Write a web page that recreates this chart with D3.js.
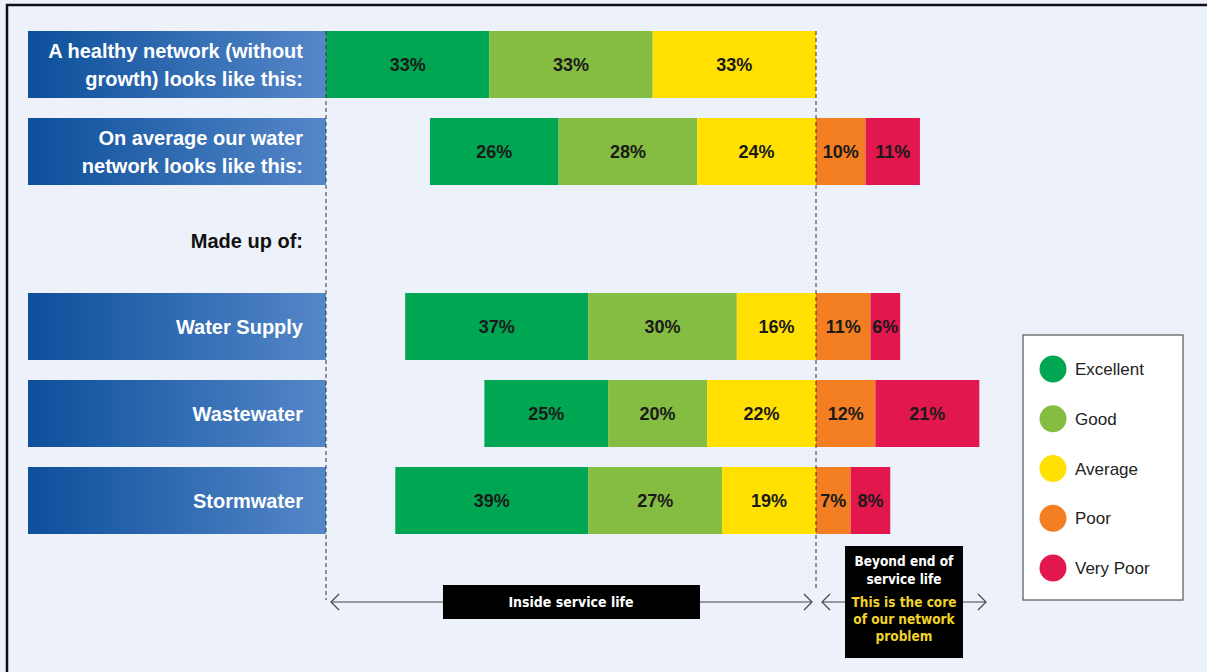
<!DOCTYPE html>
<html>
<head>
<meta charset="utf-8">
<script src="https://cdn.jsdelivr.net/npm/d3@7"></script>
<style>
  html, body { margin: 0; padding: 0; background: #edf1fa; }
  svg { display: block; }
</style>
</head>
<body>
<script>
// chart values
var rowLabels = [
  ["A healthy network (without", "growth) looks like this:"],
  ["On average our water", "network looks like this:"],
  ["Water Supply"],
  ["Wastewater"],
  ["Stormwater"]
];
var categories = ["Excellent", "Good", "Average", "Poor", "Very Poor"];
var excellent = [33, 26, 37, 25, 39];
var good      = [33, 28, 30, 20, 27];
var average   = [33, 24, 16, 22, 19];
var poor      = [0, 10, 11, 12, 7];
var veryPoor  = [0, 11, 6, 21, 8];
var colors = ["#00a651", "#84bd41", "#ffe000", "#f37f22", "#e2174e"];

var width = 1207, height = 672;

var svg = d3.select("body").append("svg")
  .attr("width", width)
  .attr("height", height);

var defs = svg.append("defs");
var grad = defs.append("linearGradient").attr("id", "blueGrad")
  .attr("x1", "0%").attr("x2", "100%").attr("y1", "0%").attr("y2", "0%");
grad.append("stop").attr("offset", "0%").attr("stop-color", "#0c4f9b");
grad.append("stop").attr("offset", "100%").attr("stop-color", "#5587c8");

// frame (top and left edges visible)
svg.append("rect")
  .attr("x", 7).attr("y", 5)
  .attr("width", width + 20).attr("height", height + 20)
  .attr("fill", "#edf1fa")
  .attr("stroke", "#111").attr("stroke-width", 2.5);

// x: 0 = boundary between "inside" and "beyond" service life
var x = d3.scaleLinear().domain([-99, 0]).range([326, 816]);

// rows: index into data, with the "Made up of:" gap between 1 and 2
var y = d3.scaleOrdinal()
  .domain([0, 1, 2, 3, 4])
  .range([31, 118, 293, 380, 467]);
var barH = 67;

var rows = d3.range(rowLabels.length).map(function(i) {
  var vals = [excellent[i], good[i], average[i], poor[i], veryPoor[i]];
  var inside = vals[0] + vals[1] + vals[2];
  var cum = -inside;
  var segs = vals.map(function(v, k) {
    var s = { row: i, k: k, v: v, x0: cum, x1: cum + v };
    cum += v;
    return s;
  }).filter(function(s) { return s.v > 0; });
  return { i: i, label: rowLabels[i], segs: segs };
});

// label boxes
var labelG = svg.append("g");
labelG.selectAll("rect")
  .data(rows).enter().append("rect")
  .attr("x", 28)
  .attr("y", function(d) { return y(d.i); })
  .attr("width", x(-99) - 28)
  .attr("height", barH)
  .attr("fill", "url(#blueGrad)");

labelG.selectAll("text")
  .data(rows).enter().append("text")
  .attr("x", 303)
  .attr("y", function(d) { return y(d.i) + barH / 2; })
  .attr("text-anchor", "end")
  .attr("fill", "#fff")
  .style("font-family", "'Liberation Sans', Arial, sans-serif")
  .style("font-weight", "bold")
  .style("font-size", "20px")
  .each(function(d) {
    var t = d3.select(this);
    var n = d.label.length;
    d.label.forEach(function(line, j) {
      t.append("tspan")
        .attr("x", 303)
        .attr("dy", j === 0 ? ((-(n - 1) * 14) + 7.5) : 28)
        .text(line);
    });
  });

svg.append("text")
  .attr("x", 303).attr("y", 248)
  .attr("text-anchor", "end")
  .attr("fill", "#111")
  .style("font-family", "'Liberation Sans', Arial, sans-serif")
  .style("font-weight", "bold")
  .style("font-size", "20px")
  .text("Made up of:");

// bars
var segData = [];
rows.forEach(function(r) { segData = segData.concat(r.segs); });

var barG = svg.append("g");
barG.selectAll("rect")
  .data(segData).enter().append("rect")
  .attr("x", function(d) { return x(d.x0); })
  .attr("y", function(d) { return y(d.row); })
  .attr("width", function(d) { return x(d.x1) - x(d.x0); })
  .attr("height", barH)
  .attr("fill", function(d) { return colors[d.k]; });

barG.selectAll("text")
  .data(segData).enter().append("text")
  .attr("x", function(d) { return (x(d.x0) + x(d.x1)) / 2; })
  .attr("y", function(d) { return y(d.row) + barH / 2 + 6.5; })
  .attr("text-anchor", "middle")
  .attr("fill", "#1a1a1a")
  .style("font-family", "'Liberation Sans', Arial, sans-serif")
  .style("font-weight", "bold")
  .style("font-size", "18px")
  .text(function(d) { return d.v + "%"; });

// dashed guides
svg.selectAll("line.guide")
  .data([-99, 0]).enter().append("line")
  .attr("class", "guide")
  .attr("x1", function(d) { return x(d); })
  .attr("x2", function(d) { return x(d); })
  .attr("y1", 31)
  .attr("y2", function(d) { return d === 0 ? 590 : 600; })
  .attr("stroke", "#333")
  .attr("stroke-width", 1)
  .attr("stroke-dasharray", "4,3");

// arrows
function arrow(x1, x2, yy) {
  var g = svg.append("g").attr("fill", "none").attr("stroke", "#444").attr("stroke-width", 1.2);
  g.append("line").attr("x1", x1).attr("x2", x2).attr("y1", yy).attr("y2", yy);
  g.append("path").attr("d", "M" + (x1 + 8) + "," + (yy - 8) + "L" + x1 + "," + yy + "L" + (x1 + 8) + "," + (yy + 8));
  g.append("path").attr("d", "M" + (x2 - 8) + "," + (yy - 8) + "L" + x2 + "," + yy + "L" + (x2 - 8) + "," + (yy + 8));
}
arrow(x(-99) + 5, x(0) - 4, 602);
arrow(x(0) + 6, 986, 602);

var condensed = "'Liberation Sans Narrow', 'DejaVu Sans Condensed', 'Roboto', sans-serif";

// inside service life box
svg.append("rect")
  .attr("x", 443).attr("y", 585)
  .attr("width", 257).attr("height", 34)
  .attr("fill", "#000");
svg.append("text")
  .attr("x", 571).attr("y", 607)
  .attr("text-anchor", "middle")
  .attr("fill", "#fff")
  .style("font-family", condensed)
  .style("font-weight", "bold")
  .style("font-size", "14px")
  .text("Inside service life");

// beyond end of service life box
svg.append("rect")
  .attr("x", 845).attr("y", 546)
  .attr("width", 118).attr("height", 112)
  .attr("fill", "#000");
var beyondLines = [
  { t: "Beyond end of", c: "#fff" },
  { t: "service life", c: "#fff" },
  { t: "This is the core", c: "#f1d22a" },
  { t: "of our network", c: "#f1d22a" },
  { t: "problem", c: "#f1d22a" }
];
var lineY = [566, 584, 607, 624, 641];
svg.selectAll("text.beyond")
  .data(beyondLines).enter().append("text")
  .attr("class", "beyond")
  .attr("x", 904)
  .attr("y", function(d, i) { return lineY[i]; })
  .attr("text-anchor", "middle")
  .attr("fill", function(d) { return d.c; })
  .style("font-family", condensed)
  .style("font-weight", "bold")
  .style("font-size", "13.5px")
  .text(function(d) { return d.t; });

// legend
var legend = svg.append("g");
legend.append("rect")
  .attr("x", 1023).attr("y", 335)
  .attr("width", 160).attr("height", 265)
  .attr("fill", "#fff")
  .attr("stroke", "#555").attr("stroke-width", 1.2);

var ly = d3.scalePoint().domain(categories).range([369, 568]);
var item = legend.selectAll("g.item")
  .data(categories).enter().append("g")
  .attr("class", "item")
  .attr("transform", function(d) { return "translate(0," + ly(d) + ")"; });
item.append("circle")
  .attr("cx", 1053).attr("cy", 0).attr("r", 13.5)
  .attr("fill", function(d, i) { return colors[i]; });
item.append("text")
  .attr("x", 1075).attr("y", 6)
  .attr("fill", "#222")
  .style("font-family", "'Liberation Sans', Arial, sans-serif")
  .style("font-size", "17px")
  .text(function(d) { return d; });
</script>
</body>
</html>
